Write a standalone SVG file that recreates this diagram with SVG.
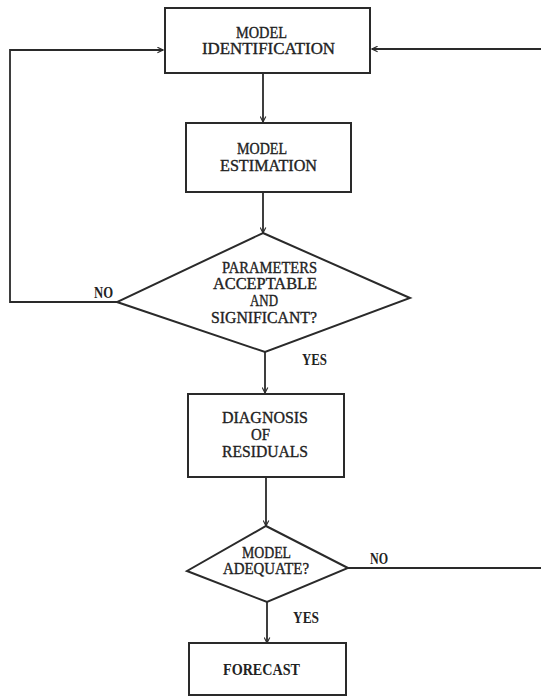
<svg xmlns="http://www.w3.org/2000/svg" width="541" height="696" viewBox="0 0 541 696">
<defs>
<marker id="arr" viewBox="0 0 10 10" refX="9" refY="5" markerWidth="7" markerHeight="7" markerUnits="userSpaceOnUse" orient="auto">
<path d="M1,1 L9,5 L1,9" fill="none" stroke="#2a2a2a" stroke-width="1.6"/>
</marker>
<style>
.shape{fill:none;stroke:#2a2a2a;stroke-width:2}
.conn{fill:none;stroke:#2a2a2a;stroke-width:1.8}
.t{font-family:"Liberation Serif","Times New Roman",serif;font-size:16px;fill:#222;stroke:#222;stroke-width:0.35}
.s{font-family:"Liberation Serif","Times New Roman",serif;font-size:16px;font-weight:bold;fill:#222}
</style>
</defs>
<rect width="541" height="696" fill="#ffffff"/>
<g id="connectors">
<path class="conn" d="M263,73 L263,122" marker-end="url(#arr)"/>
<path class="conn" d="M263,192 L263,233" marker-end="url(#arr)"/>
<path class="conn" d="M265,352 L265,393" marker-end="url(#arr)"/>
<path class="conn" d="M266,477 L266,526" marker-end="url(#arr)"/>
<path class="conn" d="M267,602 L267,643" marker-end="url(#arr)"/>
<path class="conn" d="M117,302 L10,302 L10,50 L163,50" marker-end="url(#arr)"/>
<path class="conn" d="M348,568 L541,568"/>
<path class="conn" d="M541,49 L372,49" marker-end="url(#arr)"/>
<text class="s" x="94" y="298" textLength="19" lengthAdjust="spacingAndGlyphs">NO</text>
<text class="s" x="302" y="365" textLength="25" lengthAdjust="spacingAndGlyphs">YES</text>
<text class="s" x="370" y="564" textLength="18" lengthAdjust="spacingAndGlyphs">NO</text>
<text class="s" x="293" y="623" textLength="26" lengthAdjust="spacingAndGlyphs">YES</text>
</g>
<g id="model-identification">
<rect class="shape" x="165" y="8" width="205" height="65"/>
<text class="t" x="236" y="38" textLength="51" lengthAdjust="spacingAndGlyphs">MODEL</text>
<text class="t" x="202" y="54" textLength="133" lengthAdjust="spacingAndGlyphs">IDENTIFICATION</text>
</g>
<g id="model-estimation">
<rect class="shape" x="186" y="123" width="165" height="69"/>
<text class="t" x="237" y="154" textLength="50" lengthAdjust="spacingAndGlyphs">MODEL</text>
<text class="t" x="220" y="171" textLength="97" lengthAdjust="spacingAndGlyphs">ESTIMATION</text>
</g>
<g id="parameters-decision">
<polygon class="shape" points="263,233 410,298 265,352 117,302"/>
<text class="t" x="222" y="273" textLength="95" lengthAdjust="spacingAndGlyphs">PARAMETERS</text>
<text class="t" x="213" y="289" textLength="104" lengthAdjust="spacingAndGlyphs">ACCEPTABLE</text>
<text class="t" x="250" y="306" textLength="28" lengthAdjust="spacingAndGlyphs">AND</text>
<text class="t" x="211" y="323" textLength="106" lengthAdjust="spacingAndGlyphs">SIGNIFICANT?</text>
</g>
<g id="diagnosis">
<rect class="shape" x="188" y="394" width="156" height="83"/>
<text class="t" x="222" y="423" textLength="86" lengthAdjust="spacingAndGlyphs">DIAGNOSIS</text>
<text class="t" x="251" y="440" textLength="19" lengthAdjust="spacingAndGlyphs">OF</text>
<text class="t" x="222" y="457" textLength="86" lengthAdjust="spacingAndGlyphs">RESIDUALS</text>
</g>
<g id="adequate-decision">
<polygon class="shape" points="266,526 348,568 267,602 187,571"/>
<text class="t" x="242" y="558" textLength="49" lengthAdjust="spacingAndGlyphs">MODEL</text>
<text class="t" x="223" y="574" textLength="86" lengthAdjust="spacingAndGlyphs">ADEQUATE?</text>
</g>
<g id="forecast">
<rect class="shape" x="189" y="643" width="157" height="52"/>
<text class="s" x="223" y="675" textLength="77" lengthAdjust="spacingAndGlyphs">FORECAST</text>
</g>
</svg>
